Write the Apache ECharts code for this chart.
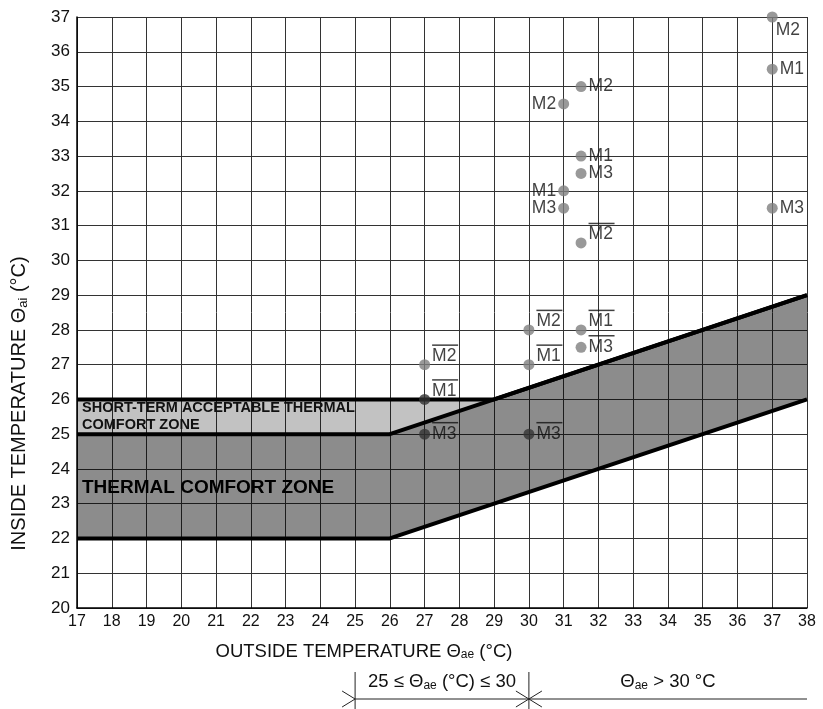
<!DOCTYPE html>
<html>
<head>
<meta charset="utf-8">
<script src="https://cdn.jsdelivr.net/npm/echarts@6/dist/echarts.min.js"></script>
<style>
html,body{margin:0;padding:0;background:#fff;}
#chart{width:823px;height:709px;}
</style>
</head>
<body>
<div id="chart"></div>
<script>
// 坐标轴范围
var xRange = [17, 38];
var yRange = [20, 37];
// 测点
var ptX = [27, 27, 27, 30, 30, 30, 31, 31, 31, 31.5, 31.5, 31.5, 31.5, 31.5, 31.5, 37, 37, 37];
var ptY = [27, 26, 25, 28, 27, 25, 34.5, 32, 31.5, 35, 33, 32.5, 30.5, 28, 27.5, 37, 35.5, 31.5];
var ptName = ['M2', 'M1', 'M3', 'M2', 'M1', 'M3', 'M2', 'M1', 'M3', 'M2', 'M1', 'M3', 'M2', 'M1', 'M3', 'M2', 'M1', 'M3'];
var ptBar = [1, 1, 1, 1, 1, 1, 0, 0, 0, 0, 0, 0, 1, 1, 1, 0, 0, 0];
// 舒适区边界
var upperX = [17, 29, 38], upperY = [26, 26, 29];
var middleX = [17, 26, 38], middleY = [25, 25, 29];
var lowerX = [17, 26, 38], lowerY = [22, 22, 26];
// 区域多边形
var comfortX = [17, 26, 38, 38, 26, 17], comfortY = [22, 22, 26, 29, 25, 25];
var shortX = [17, 26, 29, 17], shortY = [25, 25, 26, 26];
// 下方区间标注
var rangeA = [25, 30], rangeB = [30, 38];

var FONT = "'Liberation Sans', Arial, sans-serif";
var darkPts = {1: true, 2: true, 5: true};
var leftPts = {6: true, 7: true, 8: true};

function zip(xs, ys) {
  var out = [];
  for (var i = 0; i < xs.length; i++) out.push([xs[i], ys[i]]);
  return out;
}

function polySeries(xs, ys, fill) {
  return {
    type: 'custom',
    data: zip(xs, ys),
    z: 1,
    silent: true,
    renderItem: function (params, api) {
      if (params.dataIndex !== 0) return;
      var pts = [];
      for (var i = 0; i < xs.length; i++) pts.push(api.coord([xs[i], ys[i]]));
      return {type: 'polygon', shape: {points: pts}, style: {fill: fill}};
    }
  };
}

function lineSeries(xs, ys) {
  return {
    type: 'line',
    data: zip(xs, ys),
    symbol: 'none',
    z: 3,
    lineStyle: {color: '#000', width: 4},
    silent: true
  };
}

var scatterData = [];
for (var i = 0; i < ptX.length; i++) {
  var off = [0, 0];
  if (ptBar[i]) off = (ptName[i] === 'M3') ? [0, -3] : [0, -11];
  var pos = leftPts[i] ? 'left' : 'right';
  if (i === 15) off = [-4, 13];
  scatterData.push({
    value: [ptX[i], ptY[i]],
    itemStyle: {color: darkPts[i] ? '#333' : '#808080'},
    label: {
      show: true,
      position: pos,
      distance: 2,
      offset: off,
      formatter: (ptBar[i] ? '{ol| }\n' : '') + '{t|' + ptName[i] + '}'
    }
  });
}

var nameRich = function (size) {
  return {
    s: {fontSize: size, fontFamily: FONT, color: '#111'},
    sub: {fontSize: Math.round(size * 0.65), fontFamily: FONT, color: '#111', padding: [Math.round(size * 0.4), 0, 0, 0]}
  };
};

var myChart = echarts.init(document.getElementById('chart'));
var option = {
  animation: false,
  grid: {left: 77, right: 16, top: 17, bottom: 101},
  xAxis: {
    type: 'value',
    min: xRange[0], max: xRange[1], interval: 1,
    name: 'OUTSIDE TEMPERATURE {s|Θ}{sub|ae} {s|(°C)}',
    nameLocation: 'middle',
    nameGap: 34,
    nameTextStyle: {
      color: '#111', fontFamily: FONT, fontSize: 18.5, padding: [0, 156, 0, 0],
      rich: nameRich(18.5)
    },
    axisLine: {lineStyle: {color: '#000', width: 1.5}},
    axisTick: {show: false},
    axisLabel: {color: '#111', fontFamily: FONT, fontSize: 16, margin: 6},
    splitLine: {show: true, lineStyle: {color: '#333', width: 1}}
  },
  yAxis: {
    type: 'value',
    min: yRange[0], max: yRange[1], interval: 1,
    name: 'INSIDE TEMPERATURE {s|Θ}{sub|ai} {s|(°C)}',
    nameLocation: 'middle',
    nameGap: 47,
    nameTextStyle: {
      color: '#111', fontFamily: FONT, fontSize: 20, padding: [0, 182, 0, 0],
      rich: nameRich(20)
    },
    axisLine: {show: true, lineStyle: {color: '#000', width: 1.5}},
    axisTick: {show: false},
    axisLabel: {color: '#111', fontFamily: FONT, fontSize: 17, margin: 7},
    splitLine: {show: true, lineStyle: {color: '#333', width: 1}}
  },
  series: [
    polySeries(comfortX, comfortY, 'rgba(0,0,0,0.45)'),
    polySeries(shortX, shortY, 'rgba(0,0,0,0.24)'),
    lineSeries(upperX, upperY),
    lineSeries(middleX, middleY),
    lineSeries(lowerX, lowerY),
    {
      type: 'scatter',
      symbolSize: 11,
      z: 5,
      data: scatterData,
      label: {
        rich: {
          ol: {width: 26, height: 1.5, lineHeight: 5, backgroundColor: '#111', fontSize: 1},
          t: {fontSize: 17.5, fontFamily: FONT, color: '#111', lineHeight: 17}
        }
      }
    }
  ]
};
myChart.setOption(option);

// 区域文字与下方区间标注
var px = function (v) { return myChart.convertToPixel({xAxisIndex: 0}, v); };
var py = function (v) { return myChart.convertToPixel({yAxisIndex: 0}, v); };
var lineY = 699, tickTop = 672, tickBot = 709, textY = 682;
var a0 = px(rangeA[0]), a1 = px(rangeA[1]), b1 = px(rangeB[1]);
var subRich = {
  s: {fontSize: 18.5, fontFamily: FONT, fill: '#111'},
  sub: {fontSize: 12, fontFamily: FONT, fill: '#111', padding: [7, 0, 0, 0]}
};
var chevron = function (x, dir) {
  return {type: 'polyline', shape: {points: [[x - 13 * dir, lineY - 8], [x, lineY], [x - 13 * dir, lineY + 8]]},
    style: {stroke: '#222', fill: null, lineWidth: 1}};
};
myChart.setOption({
  graphic: [
    {type: 'text', x: px(17) + 5, y: py(25.5), z: 10, style: {
      text: 'SHORT-TERM ACCEPTABLE THERMAL\nCOMFORT ZONE', fill: '#111',
      font: 'bold 14.5px ' + FONT, lineHeight: 17, verticalAlign: 'middle'}},
    {type: 'text', x: px(17) + 5, y: py(23.5) + 1, z: 10, style: {
      text: 'THERMAL COMFORT ZONE', fill: '#000',
      font: 'bold 19px ' + FONT, verticalAlign: 'middle'}},
    {type: 'line', shape: {x1: a0, y1: lineY, x2: b1, y2: lineY}, style: {stroke: '#222', lineWidth: 1}},
    {type: 'line', shape: {x1: a0, y1: tickTop, x2: a0, y2: tickBot}, style: {stroke: '#222', lineWidth: 1}},
    {type: 'line', shape: {x1: a1, y1: tickTop, x2: a1, y2: tickBot}, style: {stroke: '#222', lineWidth: 1}},
    chevron(a0, 1),
    chevron(a1, 1),
    chevron(a1, -1),
    {type: 'text', x: (a0 + a1) / 2, y: textY, style: {
      text: '{s|25 ≤ Θ}{sub|ae}{s| (°C) ≤ 30}', rich: subRich, align: 'center', verticalAlign: 'middle'}},
    {type: 'text', x: (a1 + b1) / 2, y: textY, style: {
      text: '{s|Θ}{sub|ae}{s| > 30 °C}', rich: subRich, align: 'center', verticalAlign: 'middle'}}
  ]
});
</script>
</body>
</html>
